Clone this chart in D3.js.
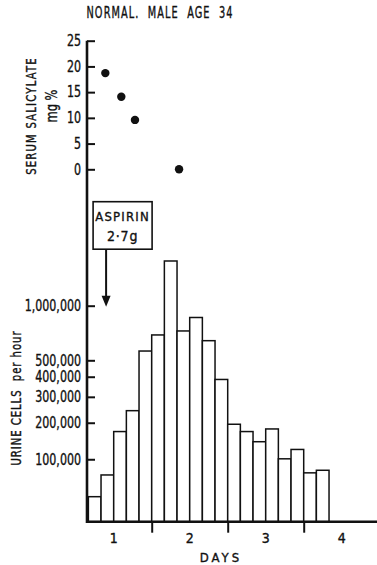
<!DOCTYPE html>
<html>
<head>
<meta charset="utf-8">
<script src="https://cdn.jsdelivr.net/npm/d3@7"></script>
<style>
  body { margin: 0; background: #fff; }
  svg { display: block; }
  text { font-family: "DejaVu Sans Condensed", "DejaVu Sans", sans-serif; fill: #111; stroke: #111; stroke-width: 0.35px; }
</style>
</head>
<body>
<svg id="chart" width="377" height="565"></svg>
<script>
// serum salicylate, mg %, sampled at day fractions
const serumDays = [0.39, 0.6, 0.78, 1.36];
const serumValues = [18.7, 14.1, 9.6, 0];
const serumTicks = [0, 5, 10, 15, 20, 25];

// urine cells per hour, 4-hour collections (start hour)
const binStartHours = [4, 8, 12, 16, 20, 24, 28, 32, 36, 40, 44, 48, 52, 56, 60, 64, 68, 72, 76];
const cellsPerHour = [32000, 68000, 172000, 243000, 565000, 695000, 1707000, 731000, 865000, 646000,
  385000, 195000, 172000, 143000, 180000, 101000, 123000, 72000, 77000];
const cellTicks = [100000, 200000, 300000, 400000, 500000, 1000000];

const dayTicks = [1, 2, 3];
const dayLabels = ['1', '2', '3', '4'];
const aspirinDay = 0.4;

const svg = d3.select('#chart');
const axisX = 87;
const baseY = 521.7;

const x = d3.scaleLinear().domain([0, 4]).range([75.7, 379.7]);
const ySerum = d3.scaleLinear().domain([0, 25]).range([169.3, 40.7]);
// cell scale is log(n + 100,000), which is what symlog with that constant gives
const yCells = d3.scaleSymlog().constant(100000).domain([0, 1000000]).range([baseY, 305.7]);

// squeeze text horizontally to mimic the narrow lettering
function squeeze(sel, k) {
  sel.each(function () {
    const w = this.getComputedTextLength();
    d3.select(this).attr('textLength', w * k).attr('lengthAdjust', 'spacingAndGlyphs');
  });
}

// title
svg.append('text')
  .attr('x', 160).attr('y', 18)
  .attr('text-anchor', 'middle')
  .style('font-size', '15px')
  .style('letter-spacing', '1.5px')
  .text('NORMAL.\u00a0\u00a0MALE\u00a0\u00a0AGE\u00a0\u00a034')
  .attr('textLength', 147)
  .attr('lengthAdjust', 'spacingAndGlyphs');

// bars
svg.append('g')
  .selectAll('rect')
  .data(cellsPerHour)
  .join('rect')
  .attr('x', (d, i) => x(binStartHours[i] / 24))
  .attr('width', (d, i) => x((binStartHours[i] + 4) / 24) - x(binStartHours[i] / 24))
  .attr('y', d => yCells(d))
  .attr('height', d => baseY - yCells(d))
  .attr('fill', '#fff')
  .attr('stroke', '#111')
  .attr('stroke-width', 1.5);

// serum dots
svg.append('g')
  .selectAll('circle')
  .data(serumValues)
  .join('circle')
  .attr('cx', (d, i) => x(serumDays[i]))
  .attr('cy', d => ySerum(d))
  .attr('r', 4.2)
  .attr('fill', '#111');

// serum ticks
const gSerum = svg.append('g')
  .attr('transform', `translate(${axisX},0)`)
  .call(d3.axisLeft(ySerum).tickValues(serumTicks).tickSize(-8).tickPadding(6));
gSerum.select('.domain').remove();

// cell ticks
const gCells = svg.append('g')
  .attr('transform', `translate(${axisX},0)`)
  .call(d3.axisLeft(yCells).tickValues(cellTicks).tickSize(-8).tickPadding(6)
    .tickFormat(d3.format(',')));
gCells.select('.domain').remove();

svg.selectAll('.tick line').attr('stroke', '#111').attr('stroke-width', 2);
svg.selectAll('.tick text')
  .style('font-size', '15px')
  .attr('fill', '#111')
  .style('font-family', '"DejaVu Sans Condensed", "DejaVu Sans", sans-serif')
  .call(squeeze, 0.82);

// day ticks
const gDays = svg.append('g')
  .attr('transform', `translate(0,${baseY})`)
  .call(d3.axisBottom(x).tickValues(dayTicks).tickSize(11).tickFormat(''));
gDays.select('.domain').remove();
gDays.selectAll('.tick line').attr('stroke', '#111').attr('stroke-width', 2);

svg.append('g')
  .selectAll('text')
  .data(dayLabels)
  .join('text')
  .attr('x', (d, i) => x(i + 0.5))
  .attr('y', 543)
  .attr('text-anchor', 'middle')
  .style('font-size', '14px')
  .text(d => d);

svg.append('text')
  .attr('x', 221).attr('y', 562)
  .attr('text-anchor', 'middle')
  .style('font-size', '13px')
  .style('letter-spacing', '3px')
  .text('DAYS');

// main axis lines
svg.append('path')
  .attr('d', `M${axisX},${ySerum(25)}V${baseY}H377`)
  .attr('fill', 'none')
  .attr('stroke', '#111')
  .attr('stroke-width', 2.6);

// y labels
svg.append('text')
  .attr('transform', 'translate(36,116) rotate(-90)')
  .attr('text-anchor', 'middle')
  .style('font-size', '14px')
  .style('letter-spacing', '1.5px')
  .text('SERUM SALICYLATE')
  .call(squeeze, 0.8);

svg.append('text')
  .attr('transform', 'translate(57,106) rotate(-90)')
  .attr('text-anchor', 'middle')
  .style('font-size', '15px')
  .text('mg %')
  .call(squeeze, 0.85);

svg.append('text')
  .attr('transform', 'translate(21,398) rotate(-90)')
  .attr('text-anchor', 'middle')
  .style('font-size', '14px')
  .style('letter-spacing', '1.2px')
  .text('URINE CELLS\u00a0\u00a0per hour')
  .call(squeeze, 0.8);

// aspirin annotation
const ax = x(aspirinDay);
svg.append('rect')
  .attr('x', ax - 13).attr('y', 201.7)
  .attr('width', 59).attr('height', 47.5)
  .attr('fill', '#fff')
  .attr('stroke', '#111')
  .attr('stroke-width', 1.6);

svg.append('text')
  .attr('x', ax + 16.5).attr('y', 221)
  .attr('text-anchor', 'middle')
  .style('font-size', '13px')
  .style('letter-spacing', '1.2px')
  .text('ASPIRIN');

svg.append('text')
  .attr('x', ax + 16.5).attr('y', 241)
  .attr('text-anchor', 'middle')
  .style('font-size', '14px')
  .style('letter-spacing', '0.8px')
  .text('2·7g');

const tipY = yCells(1000000) + 1;
svg.append('line')
  .attr('x1', ax).attr('x2', ax)
  .attr('y1', 249.2).attr('y2', tipY - 9)
  .attr('stroke', '#111')
  .attr('stroke-width', 2);

svg.append('path')
  .attr('d', `M${ax - 4.5},${tipY - 11}L${ax + 4.5},${tipY - 11}L${ax},${tipY}Z`)
  .attr('fill', '#111');
</script>
</body>
</html>
